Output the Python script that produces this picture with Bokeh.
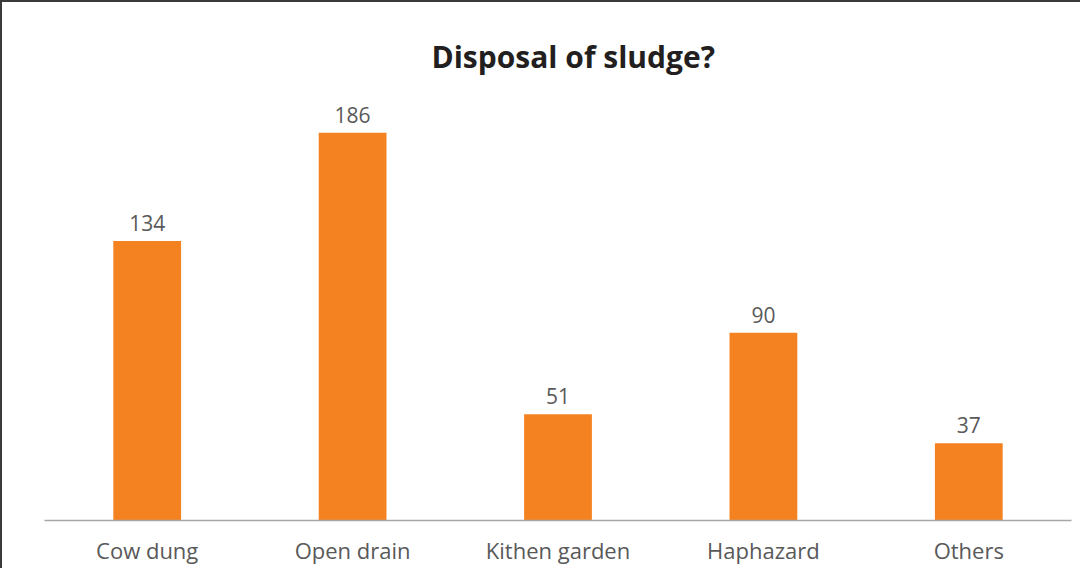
from bokeh.plotting import figure
from bokeh.models import ColumnDataSource, FactorRange, Range1d
from bokeh.core.properties import value
from bokeh.embed import file_html
from bokeh.resources import INLINE

categories = ["Cow dung", "Open drain", "Kithen garden", "Haphazard", "Others"]
counts = [134, 186, 51, 90, 37]
labels = [str(c) for c in counts]

source = ColumnDataSource(dict(cat=categories, val=counts, lab=labels))

FONT = "Open Sans"

p = figure(
    x_range=FactorRange(*categories),
    y_range=Range1d(0, 200),
    width=1080, height=568,
    output_backend="svg", toolbar_location=None,
    min_border_left=42, min_border_right=11,
    min_border_top=101, min_border_bottom=50,
    title="Disposal of sludge?",
)
p.styles = {"border-top": "2px solid #3a3a3a", "border-left": "2px solid #3a3a3a"}

p.title.align = "left"
p.title.text_font = FONT
p.title.text_font_style = "bold"
p.title.text_font_size = "30px"
p.title.text_color = "#231f20"
p.title.standoff = 54
p.title.offset = 387

p.vbar(x="cat", top="val", width=0.33, source=source,
       fill_color="#F48221", line_color=None)

p.text(x="cat", y="val", text="lab", source=source,
       text_align="center", text_baseline="alphabetic", y_offset=-18,
       text_font=value(FONT), text_font_size="21px", text_color="#595959")

p.yaxis.visible = False
p.xgrid.grid_line_color = None
p.ygrid.grid_line_color = None
p.outline_line_color = None

xa = p.xaxis[0]
xa.axis_line_color = "#a6a6a6"
xa.axis_line_width = 1.5
xa.major_tick_line_color = None
xa.minor_tick_line_color = None
xa.major_tick_out = 0
xa.major_tick_in = 0
xa.major_label_standoff = 14
xa.major_label_text_font = FONT
xa.major_label_text_font_size = "22px"
xa.major_label_text_color = "#595959"

open("out.html", "w").write(file_html(p, INLINE))
